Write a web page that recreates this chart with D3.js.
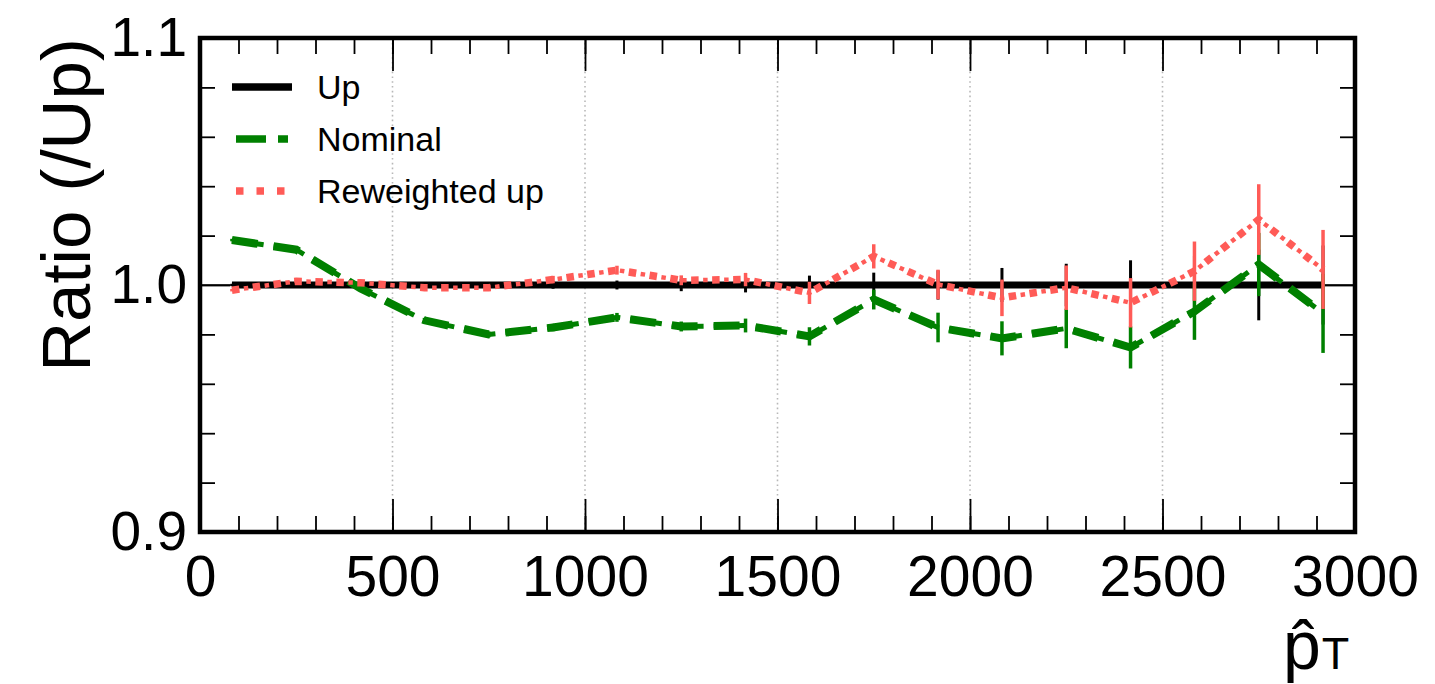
<!DOCTYPE html>
<html>
<head>
<meta charset="utf-8">
<script src="https://cdn.jsdelivr.net/npm/d3@7"></script>
<style>
  html, body { margin: 0; padding: 0; background: #fff; }
  svg { display: block; font-family: "Liberation Sans", Arial, sans-serif; }
</style>
</head>
<body>
<svg id="chart" width="1435" height="684"></svg>
<script>
// ---------------- data ----------------
const binCenters = [83, 250, 417, 583, 750, 917, 1083, 1250, 1417, 1583, 1750, 1917, 2083, 2250, 2417, 2583, 2750, 2917];

const upValues = [1.0, 1.0, 1.0, 1.0, 1.0, 1.0, 1.0, 1.0, 1.0, 1.0, 1.0, 1.0, 1.0, 1.0, 1.0, 1.0, 1.0, 1.0];
const upErrors = [0.0005, 0.0006, 0.0008, 0.001, 0.0012, 0.0015, 0.0018, 0.0025, 0.003, 0.0038, 0.005, 0.0059, 0.0069, 0.0086, 0.010, 0.012, 0.0143, 0.016];

const nominalValues = [1.0182, 1.0143, 0.9986, 0.9857, 0.9800, 0.9828, 0.9869, 0.9832, 0.9836, 0.9792, 0.9941, 0.9828, 0.9784, 0.9824, 0.9747, 0.9893, 1.0083, 0.9885];
const nominalErrors = [0.0005, 0.0006, 0.0008, 0.001, 0.0012, 0.0015, 0.0018, 0.002, 0.0028, 0.0037, 0.004, 0.006, 0.0069, 0.008, 0.0085, 0.0115, 0.0128, 0.016];

const reweightedValues = [0.9979, 1.0015, 1.0009, 0.9989, 0.9989, 1.0022, 1.0060, 1.0019, 1.0022, 0.9968, 1.0116, 1.0002, 0.9948, 0.9989, 0.9928, 1.0056, 1.0265, 1.0063];
const reweightedErrors = [0.0005, 0.0006, 0.0008, 0.001, 0.0012, 0.0015, 0.0018, 0.002, 0.0027, 0.0045, 0.0049, 0.006, 0.0074, 0.009, 0.010, 0.012, 0.0143, 0.016];

const xMajorTicks = [0, 500, 1000, 1500, 2000, 2500, 3000];
const xMinorTicks = d3.range(0, 3001, 100);
const yMajorTicks = [0.9, 1.0, 1.1];
const yMinorTicks = [0.92, 0.94, 0.96, 0.98, 1.02, 1.04, 1.06, 1.08];
const yTickLabels = ["0.9", "1.0", "1.1"];
const gridTicks = [500, 1000, 1500, 2000, 2500];

const seriesNames = ["Up", "Nominal", "Reweighted up"];
const colors = { up: "#000000", nominal: "#008000", reweighted: "#ff5b57" };

// ---------------- layout ----------------
const svg = d3.select("#chart");
const L = 200, R = 1355, T = 38, B = 532;
const x = d3.scaleLinear().domain([0, 3000]).range([L, R]);
const y = d3.scaleLinear().domain([0.9, 1.1]).range([B, T]);

// grid
svg.append("g").selectAll("line").data(gridTicks).join("line")
  .attr("x1", d => x(d)).attr("x2", d => x(d))
  .attr("y1", T).attr("y2", B)
  .attr("stroke", "#b8b8b8").attr("stroke-width", 1.6)
  .attr("stroke-dasharray", "1.6,3.2");

// axhline at 1.0
svg.append("line")
  .attr("x1", L).attr("x2", R).attr("y1", y(1.0)).attr("y2", y(1.0))
  .attr("stroke", "#000").attr("stroke-width", 1.5);

const line = vals => d3.line().x((d, i) => x(binCenters[i])).y(d => y(d))(vals);

function errorBars(vals, errs, color, width) {
  svg.append("g").selectAll("line").data(vals).join("line")
    .attr("x1", (d, i) => x(binCenters[i])).attr("x2", (d, i) => x(binCenters[i]))
    .attr("y1", (d, i) => y(d - errs[i])).attr("y2", (d, i) => y(d + errs[i]))
    .attr("stroke", color).attr("stroke-width", width);
}

// Up
svg.append("path").attr("d", line(upValues))
  .attr("fill", "none").attr("stroke", colors.up).attr("stroke-width", 7);
errorBars(upValues, upErrors, colors.up, 3);

// Nominal
svg.append("path").attr("d", line(nominalValues))
  .attr("fill", "none").attr("stroke", colors.nominal).attr("stroke-width", 5)
  .attr("stroke-dasharray", "32,10");
svg.append("path").attr("d", line(nominalValues))
  .attr("fill", "none").attr("stroke", colors.nominal).attr("stroke-width", 8)
  .attr("stroke-dasharray", "26,16");
errorBars(nominalValues, nominalErrors, colors.nominal, 3.5);

// Reweighted up
svg.append("path").attr("d", line(reweightedValues))
  .attr("fill", "none").attr("stroke", colors.reweighted).attr("stroke-width", 7.5)
  .attr("stroke-dasharray", "7.5,13.5");
svg.append("path").attr("d", line(reweightedValues))
  .attr("fill", "none").attr("stroke", colors.reweighted).attr("stroke-width", 4.5)
  .attr("stroke-dasharray", "4.5,16.5").attr("stroke-dashoffset", 9);
errorBars(reweightedValues, reweightedErrors, colors.reweighted, 3.5);

// ---------------- axes ----------------
function styleAxis(g, fontSize) {
  g.select(".domain").remove();
  g.selectAll(".tick line").attr("stroke", "#000").attr("stroke-width", 1.8);
  g.selectAll(".tick text").attr("fill", "#000")
    .style("font-size", fontSize + "px").style("font-family", "'Liberation Sans', Arial, sans-serif");
}
// bottom
svg.append("g").attr("transform", `translate(0,${B})`)
  .call(d3.axisBottom(x).tickValues(xMinorTicks).tickSize(-16).tickFormat(""))
  .call(g => styleAxis(g, 10));
svg.append("g").attr("transform", `translate(0,${B})`)
  .call(d3.axisBottom(x).tickValues(xMajorTicks).tickSize(-33).tickPadding(24).tickFormat(d3.format("d")))
  .call(g => styleAxis(g, 57));
// top
svg.append("g").attr("transform", `translate(0,${T})`)
  .call(d3.axisTop(x).tickValues(xMinorTicks).tickSize(-16).tickFormat(""))
  .call(g => styleAxis(g, 10));
svg.append("g").attr("transform", `translate(0,${T})`)
  .call(d3.axisTop(x).tickValues(xMajorTicks).tickSize(-33).tickFormat(""))
  .call(g => styleAxis(g, 10));
// left
svg.append("g").attr("transform", `translate(${L},0)`)
  .call(d3.axisLeft(y).tickValues(yMinorTicks).tickSize(-15).tickFormat(""))
  .call(g => styleAxis(g, 10));
svg.append("g").attr("transform", `translate(${L},0)`)
  .call(d3.axisLeft(y).tickValues(yMajorTicks).tickSize(-30).tickPadding(13)
    .tickFormat((d, i) => yTickLabels[i]))
  .call(g => styleAxis(g, 55));
// right
svg.append("g").attr("transform", `translate(${R},0)`)
  .call(d3.axisRight(y).tickValues(yMinorTicks).tickSize(-15).tickFormat(""))
  .call(g => styleAxis(g, 10));
svg.append("g").attr("transform", `translate(${R},0)`)
  .call(d3.axisRight(y).tickValues(yMajorTicks).tickSize(-30).tickFormat(""))
  .call(g => styleAxis(g, 10));

// frame
svg.append("rect").attr("x", L).attr("y", T).attr("width", R - L).attr("height", B - T)
  .attr("fill", "none").attr("stroke", "#000").attr("stroke-width", 4.5);

// axis labels
svg.append("text")
  .attr("transform", `translate(90,205) rotate(-90)`)
  .attr("text-anchor", "middle")
  .style("font-size", "69px").attr("fill", "#000")
  .text("Ratio (/Up)");

const xl = svg.append("text").attr("x", 1283).attr("y", 669)
  .style("font-size", "68px").attr("fill", "#000");
xl.append("tspan").text("p\u0302");
xl.append("tspan").attr("dx", 1).style("font-size", "45px").text("T");

// ---------------- legend ----------------
const legend = svg.append("g");
const legY = [87, 139, 191];
legend.append("line").attr("x1", 232).attr("x2", 292).attr("y1", legY[0]).attr("y2", legY[0])
  .attr("stroke", colors.up).attr("stroke-width", 7.5);
legend.append("line").attr("x1", 236).attr("x2", 290).attr("y1", legY[1]).attr("y2", legY[1])
  .attr("stroke", colors.nominal).attr("stroke-width", 7.5).attr("stroke-dasharray", "30,12,10,12");
legend.append("line").attr("x1", 236).attr("x2", 290).attr("y1", legY[2]).attr("y2", legY[2])
  .attr("stroke", colors.reweighted).attr("stroke-width", 7.5).attr("stroke-dasharray", "7.5,13");
legend.selectAll("text").data(seriesNames).join("text")
  .attr("x", 317).attr("y", (d, i) => legY[i]).attr("dy", "0.36em")
  .style("font-size", "34px").attr("fill", "#000").text(d => d);
</script>
</body>
</html>
